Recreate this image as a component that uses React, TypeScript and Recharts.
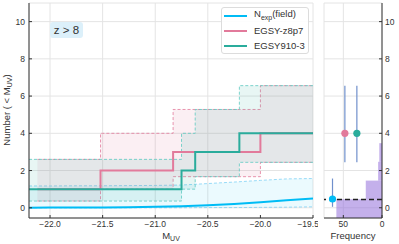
import {
    ComposedChart,
    Line,
    Area,
    Scatter,
    ErrorBar,
    XAxis,
    YAxis,
    CartesianGrid,
    ReferenceLine,
    ReferenceArea,
} from 'recharts'

const FONT = '"Liberation Sans", Arial, sans-serif'
const INK = '#333'

const BLUE = '#00bcf5'
const PINK = '#e27a9b'
const TEAL = '#2aac9c'

const muvTicks = [-22, -21.5, -21, -20.5, -20, -19.5]
const numTicks = [0, 2, 4, 6, 8, 10]
const freqTicks = [0, 50]

// expected field counts N_exp(<M_UV) and its band
const expM = [-22.2, -22.0, -21.75, -21.5, -21.25, -21.0, -20.75, -20.5, -20.25, -20.0, -19.75, -19.5]
const expN = [0.0, 0.01, 0.01, 0.02, 0.03, 0.05, 0.08, 0.13, 0.2, 0.3, 0.4, 0.5]
const expLo = [0, 0, 0, 0, 0, 0, 0, 0.01, 0.01, 0.02, 0.03, 0.05]
const expHi = [1.17, 1.17, 1.18, 1.18, 1.19, 1.2, 1.22, 1.3, 1.38, 1.47, 1.55, 1.57]

// EGSY-z8p7 cumulative counts (steps)
const z8p7M = [-22.12, -21.52, -20.83, -20.0, -19.5]
const z8p7N = [1, 2, 3, 4, 4]
const z8p7Lo = [0.36, 1.0, 1.67, 2.44, 2.44]
const z8p7Hi = [2.6, 4.0, 5.28, 6.56, 6.56]

// EGSY910-3 cumulative counts (steps)
const g910M = [-22.2, -20.75, -20.62, -20.2, -19.5]
const g910N = [1, 2, 3, 4, 4]
const g910Lo = [0.36, 1.0, 1.67, 2.44, 2.44]
const g910Hi = [2.6, 4.0, 5.28, 6.56, 6.56]

// side panel: observed counts vs. frequency
const pointFreq = [64, 48, 32.5]
const pointN = [0.47, 4, 4]
const pointLo = [0.05, 2.44, 2.44]
const pointHi = [1.57, 6.56, 6.56]
const pointColor = [BLUE, PINK, TEAL]

const binLo = [-0.55, 0.46, 1.46, 2.47]
const binHi = [0.46, 1.46, 2.47, 3.47]
const binCount = [59, 21, 5, 3.5]
const expMean = 0.44

const stepAt = (xs: number[], vs: number[], x: number) => {
    let i = -1
    xs.forEach((v, k) => { if (v <= x + 1e-9) i = k })
    return i < 0 ? null : vs[i]
}

const allM = Array.from(new Set([...expM, ...z8p7M, ...g910M])).sort((a, b) => a - b)

const rows = allM.map((m) => {
    const e = expM.indexOf(m)
    const pn = stepAt(z8p7M, z8p7N, m)
    const tn = stepAt(g910M, g910N, m)
    return {
        m,
        exp: e >= 0 ? expN[e] : null,
        expBand: e >= 0 ? [expLo[e], expHi[e]] : null,
        pink: pn,
        pinkBand: pn == null ? null : [stepAt(z8p7M, z8p7Lo, m), stepAt(z8p7M, z8p7Hi, m)],
        teal: tn,
        tealBand: tn == null ? null : [stepAt(g910M, g910Lo, m), stepAt(g910M, g910Hi, m)],
    }
})

const points = pointFreq.map((f, i) => ({
    freq: f,
    n: pointN[i],
    err: [pointN[i] - pointLo[i], pointHi[i] - pointN[i]],
    color: pointColor[i],
}))

const fmt = (v: number) => v.toFixed(1).replace('-', '\u2212')
const tickStyle = { fontSize: 8.5, fill: INK, fontFamily: FONT }

const legendRows = [
    { color: BLUE, label: <>N<sub style={{ fontSize: 7 }}>exp</sub>(field)</> },
    { color: PINK, label: <>EGSY-z8p7</> },
    { color: TEAL, label: <>EGSY910-3</> },
]

const MainPanel = () => (
    <ComposedChart width={318} height={244} data={rows} margin={{ top: 3, right: 5, bottom: 0, left: 0 }}>
        <CartesianGrid stroke="#e4e4e4" />
        <XAxis
            dataKey="m"
            type="number"
            domain={[-22.2, -19.5]}
            ticks={muvTicks}
            allowDataOverflow
            tickFormatter={fmt}
            height={26}
            tick={tickStyle}
            tickSize={-3}
            tickMargin={6}
            stroke={INK}
            label={{
                content: () => (
                    <text x={171} y={239} textAnchor="middle" fontSize={9.5} fill={INK} fontFamily={FONT}>
                        M<tspan dy={2} fontSize={7}>UV</tspan>
                    </text>
                ),
            }}
        />
        <XAxis xAxisId="top" orientation="top" type="number" domain={[-22.2, -19.5]} ticks={muvTicks} height={0} tick={false} tickSize={-3} stroke={INK} />
        <YAxis
            type="number"
            domain={[-0.55, 11]}
            ticks={numTicks}
            allowDataOverflow
            width={29}
            tick={tickStyle}
            tickSize={-3}
            tickMargin={7}
            stroke={INK}
            label={{
                content: () => (
                    <text transform="translate(10,110) rotate(-90)" textAnchor="middle" fontSize={9.5} fill={INK} fontFamily={FONT}>
                        Number ( &lt; M<tspan dy={2} fontSize={7}>UV</tspan><tspan dy={-2}>)</tspan>
                    </text>
                ),
            }}
        />
        <YAxis yAxisId="right" orientation="right" type="number" domain={[-0.55, 11]} ticks={numTicks} width={0} tick={false} tickSize={-3} stroke={INK} />

        <Area dataKey="expBand" type="linear" connectNulls fill={BLUE} fillOpacity={0.08} stroke="#7fd2f5" strokeWidth={0.8} strokeDasharray="3 2" isAnimationActive={false} />
        <Area dataKey="pinkBand" type="stepAfter" fill={PINK} fillOpacity={0.12} stroke={PINK} strokeWidth={0.8} strokeDasharray="3 2" isAnimationActive={false} />
        <Area dataKey="tealBand" type="stepAfter" fill={TEAL} fillOpacity={0.11} stroke="#5cc9c0" strokeWidth={0.8} strokeDasharray="3 2" isAnimationActive={false} />

        <Line dataKey="exp" type="linear" connectNulls stroke={BLUE} strokeWidth={2} dot={false} isAnimationActive={false} />
        <Line dataKey="pink" type="stepAfter" stroke={PINK} strokeWidth={2} dot={false} isAnimationActive={false} />
        <Line dataKey="teal" type="stepAfter" stroke={TEAL} strokeWidth={2} dot={false} isAnimationActive={false} />
    </ComposedChart>
)

const SidePanel = () => (
    <ComposedChart width={81} height={244} margin={{ top: 3, right: 0, bottom: 0, left: 6 }}>
        <CartesianGrid stroke="#e4e4e4" />
        <XAxis
            dataKey="freq"
            type="number"
            domain={[0, 75]}
            reversed
            ticks={freqTicks}
            allowDataOverflow
            height={26}
            tick={tickStyle}
            tickSize={-3}
            tickMargin={6}
            stroke={INK}
            label={{
                content: () => (
                    <text x={35} y={239} textAnchor="middle" fontSize={9.5} fill={INK} fontFamily={FONT}>
                        Frequency
                    </text>
                ),
            }}
        />
        <XAxis xAxisId="top" orientation="top" type="number" domain={[0, 75]} reversed ticks={freqTicks} height={0} tick={false} tickSize={-3} stroke={INK} />
        <YAxis
            dataKey="n"
            orientation="right"
            type="number"
            domain={[-0.55, 11]}
            ticks={numTicks}
            allowDataOverflow
            width={17}
            tick={tickStyle}
            tickSize={-3}
            tickMargin={6}
            stroke={INK}
        />
        <YAxis yAxisId="left" orientation="left" type="number" domain={[-0.55, 11]} ticks={numTicks} width={0} tick={false} tickSize={-3} stroke={INK} />

        {binCount.map((c, i) => (
            <ReferenceArea
                key={i}
                x1={0}
                x2={c}
                y1={binLo[i]}
                y2={binHi[i]}
                ifOverflow="hidden"
                fill="#9370db"
                fillOpacity={0.55}
                stroke="none"
            />
        ))}
        <ReferenceLine y={expMean} stroke="#222" strokeWidth={1.5} strokeDasharray="5 3" />

        <Scatter
            data={points}
            isAnimationActive={false}
            shape={(p: any) => <circle cx={p.cx} cy={p.cy} r={3.6} fill={p.payload.color} />}
        >
            <ErrorBar dataKey="err" direction="y" width={0} stroke="#7090cc" strokeWidth={1.2} />
        </Scatter>
    </ComposedChart>
)

export default function App() {
    return (
        <div style={{ position: 'absolute', left: 0, top: 0, width: 399, height: 244, background: '#fff', fontFamily: FONT }}>
            <div style={{ position: 'absolute', left: 0, top: 0 }}>
                <MainPanel />
            </div>
            <div style={{ position: 'absolute', left: 318, top: 0 }}>
                <SidePanel />
            </div>

            <div
                style={{
                    position: 'absolute', left: 50, top: 22, width: 33, height: 16,
                    background: '#dcf0fa', borderRadius: 3, fontSize: 11.5, color: INK,
                    lineHeight: '16px', textAlign: 'center',
                }}
            >
                z &gt; 8
            </div>

            <div
                style={{
                    position: 'absolute', left: 221, top: 7, width: 88, height: 47, boxSizing: 'border-box',
                    background: 'rgba(255,255,255,0.9)', border: '1px solid #dcdcdc', borderRadius: 3,
                    fontSize: 9.5, color: INK,
                }}
            >
                {legendRows.map((r, i) => (
                    <div key={i} style={{ position: 'absolute', left: 2, top: 2 + i * 15, height: 12, display: 'flex', alignItems: 'center' }}>
                        <span style={{ display: 'inline-block', width: 23, height: 2, background: r.color, marginRight: 7 }} />
                        <span style={{ whiteSpace: 'nowrap', lineHeight: '12px' }}>{r.label}</span>
                    </div>
                ))}
            </div>
        </div>
    )
}
